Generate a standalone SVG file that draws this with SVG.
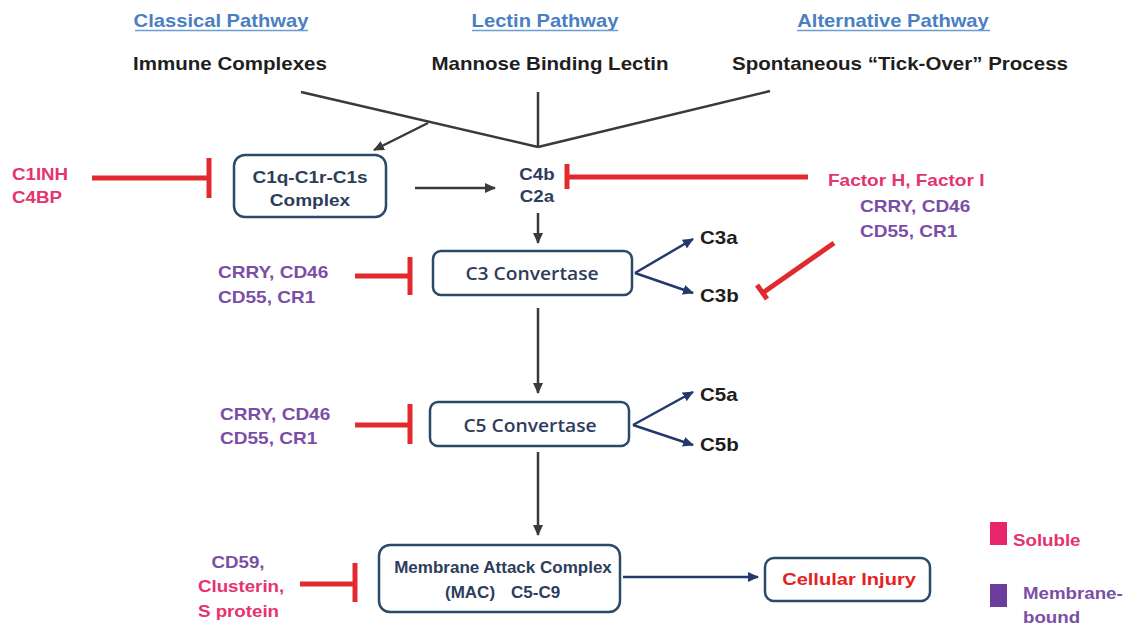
<svg xmlns="http://www.w3.org/2000/svg" width="1142" height="632" viewBox="0 0 1142 632">
<style>
text{font-family:"Liberation Sans",Arial,sans-serif;font-weight:bold;font-size:17px}
.title{fill:#4a7fc3;font-size:18px}
.blk{fill:#1e1e1e;font-size:18px}
.nav{fill:#2e3d5c}
.pink{fill:#e5336e}
.purp{fill:#7a4ea6}
.cal{font-family:"Open Sans","Noto Sans",sans-serif;font-weight:600;font-size:17.5px;fill:#2e3d5c}
.box{fill:#fff;stroke:#2b4a6a;stroke-width:2.5}
.gl{stroke:#3a3a3a;stroke-width:2.5;fill:none}
.bl{stroke:#24396b;stroke-width:2.5;fill:none}
.red{stroke:#e22a2e;stroke-width:5;fill:none}
.ul{stroke:#6a9bd1;stroke-width:1.5}
</style>
<defs>
<marker id="ah" markerUnits="userSpaceOnUse" markerWidth="11" markerHeight="10" refX="10" refY="5" orient="auto"><path d="M0,0 L11,5 L0,10 z" fill="#3a3a3a"/></marker>
<marker id="ahb" markerUnits="userSpaceOnUse" markerWidth="11" markerHeight="10" refX="10" refY="5" orient="auto"><path d="M0,0 L11,5 L0,10 z" fill="#24396b"/></marker>
</defs>
<rect width="1142" height="632" fill="#fff"/>

<g id="headers">
<text class="title" text-anchor="middle" transform="translate(221 27) scale(1.12 1)">Classical Pathway</text>
<line class="ul" x1="135" y1="30.5" x2="308" y2="30.5"/>
<text class="title" text-anchor="middle" transform="translate(545 27) scale(1.12 1)">Lectin Pathway</text>
<line class="ul" x1="472" y1="30.5" x2="618" y2="30.5"/>
<text class="title" text-anchor="middle" transform="translate(893 27) scale(1.12 1)">Alternative Pathway</text>
<line class="ul" x1="797" y1="30.5" x2="990" y2="30.5"/>
<text class="blk" text-anchor="middle" transform="translate(230 70) scale(1.14 1)">Immune Complexes</text>
<text class="blk" text-anchor="middle" transform="translate(550 70) scale(1.14 1)">Mannose Binding Lectin</text>
<text class="blk" text-anchor="middle" transform="translate(900 70) scale(1.14 1)">Spontaneous “Tick-Over” Process</text>
</g>

<g id="connectors">
<line class="gl" x1="301" y1="92" x2="538" y2="147"/>
<line class="gl" x1="538" y1="92" x2="538" y2="147"/>
<line class="gl" x1="770" y1="91" x2="538" y2="147"/>
<line class="gl" x1="428" y1="123" x2="374" y2="150" marker-end="url(#ah)"/>
<line class="gl" x1="415" y1="188" x2="495" y2="188" marker-end="url(#ah)"/>
<line class="gl" x1="538" y1="213" x2="538" y2="243" marker-end="url(#ah)"/>
<line class="gl" x1="538" y1="308" x2="538" y2="393" marker-end="url(#ah)"/>
<line class="gl" x1="538" y1="452" x2="538" y2="535" marker-end="url(#ah)"/>
<line class="bl" x1="635" y1="273" x2="693" y2="239" marker-end="url(#ahb)"/>
<line class="bl" x1="635" y1="273" x2="693" y2="293" marker-end="url(#ahb)"/>
<line class="bl" x1="633" y1="425" x2="693" y2="392" marker-end="url(#ahb)"/>
<line class="bl" x1="633" y1="425" x2="693" y2="445" marker-end="url(#ahb)"/>
<line class="bl" x1="623" y1="577" x2="758" y2="577" marker-end="url(#ahb)"/>
<line class="red" x1="92" y1="178" x2="209" y2="178"/>
<line class="red" x1="209" y1="158" x2="209" y2="198"/>
<line class="red" x1="808" y1="177" x2="567" y2="177"/>
<line class="red" x1="567" y1="164" x2="567" y2="189"/>
<line class="red" x1="834" y1="243" x2="764" y2="292"/>
<line class="red" x1="757" y1="285" x2="767" y2="299"/>
<line class="red" x1="355" y1="276" x2="410" y2="276"/>
<line class="red" x1="410" y1="257" x2="410" y2="295"/>
<line class="red" x1="355" y1="425" x2="410" y2="425"/>
<line class="red" x1="410" y1="404" x2="410" y2="444"/>
<line class="red" x1="300" y1="584" x2="355" y2="584"/>
<line class="red" x1="355" y1="563" x2="355" y2="602"/>
</g>

<g id="c1inh">
<text class="pink" transform="translate(12 180) scale(1.1 1)">C1INH</text>
<text class="pink" transform="translate(12 203) scale(1.1 1)">C4BP</text>
</g>

<g id="c1complex">
<rect class="box" x="234" y="155" width="152" height="62" rx="11"/>
<text class="nav" font-size="17.5" text-anchor="middle" transform="translate(310 183) scale(1.12 1)">C1q-C1r-C1s</text>
<text class="nav" font-size="17.5" text-anchor="middle" transform="translate(310 206) scale(1.12 1)">Complex</text>
</g>

<g id="c4b">
<text class="nav" text-anchor="middle" transform="translate(537 180) scale(1.1 1)">C4b</text>
<text class="nav" text-anchor="middle" transform="translate(537 202) scale(1.1 1)">C2a</text>
</g>

<g id="factorH">
<text class="pink" transform="translate(828 186) scale(1.12 1)">Factor H, Factor I</text>
<text class="purp" transform="translate(860 212) scale(1.12 1)">CRRY, CD46</text>
<text class="purp" transform="translate(860 237) scale(1.12 1)">CD55, CR1</text>
</g>

<g id="inhib-c3">
<text class="purp" transform="translate(218 278) scale(1.12 1)">CRRY, CD46</text>
<text class="purp" transform="translate(218 303) scale(1.12 1)">CD55, CR1</text>
</g>

<g id="c3conv">
<rect class="box" x="433" y="251" width="199" height="44" rx="8"/>
<text class="cal" text-anchor="middle" transform="translate(532 280) scale(1.1 1)">C3 Convertase</text>
</g>

<g id="c3a"><text class="blk" font-size="17" transform="translate(700 244) scale(1.14 1)">C3a</text></g>
<g id="c3b"><text class="blk" font-size="17" transform="translate(700 302) scale(1.14 1)">C3b</text></g>

<g id="inhib-c5">
<text class="purp" transform="translate(220 420) scale(1.12 1)">CRRY, CD46</text>
<text class="purp" transform="translate(220 444) scale(1.12 1)">CD55, CR1</text>
</g>

<g id="c5conv">
<rect class="box" x="430" y="402" width="199" height="44" rx="8"/>
<text class="cal" text-anchor="middle" transform="translate(530 432) scale(1.1 1)">C5 Convertase</text>
</g>

<g id="c5a"><text class="blk" font-size="17" transform="translate(700 401) scale(1.14 1)">C5a</text></g>
<g id="c5b"><text class="blk" font-size="17" transform="translate(700 451) scale(1.14 1)">C5b</text></g>

<g id="inhib-mac">
<text class="purp" text-anchor="middle" transform="translate(238 568) scale(1.1 1)">CD59,</text>
<text class="pink" transform="translate(198 592) scale(1.1 1)">Clusterin,</text>
<text class="pink" transform="translate(198 617) scale(1.1 1)">S protein</text>
</g>

<g id="mac">
<rect class="box" x="379" y="545" width="241" height="67" rx="11"/>
<text class="nav" font-size="16" text-anchor="middle" transform="translate(503 573)">Membrane Attack Complex</text>
<text class="nav" font-size="16" transform="translate(445 598)"><tspan x="0">(MAC)</tspan><tspan x="66">C5-C9</tspan></text>
</g>

<g id="injury">
<rect class="box" x="765" y="558" width="165" height="43" rx="9"/>
<text text-anchor="middle" fill="#e42222" transform="translate(849 585) scale(1.18 1)">Cellular Injury</text>
</g>

<g id="legend">
<rect x="990" y="522" width="17" height="23" fill="#e8246a"/>
<text class="pink" transform="translate(1013 546) scale(1.1 1)">Soluble</text>
<rect x="990" y="584" width="17" height="23" fill="#6b3c9b"/>
<text class="purp" transform="translate(1023 599) scale(1.1 1)">Membrane-</text>
<text class="purp" transform="translate(1023 623) scale(1.1 1)">bound</text>
</g>
</svg>
